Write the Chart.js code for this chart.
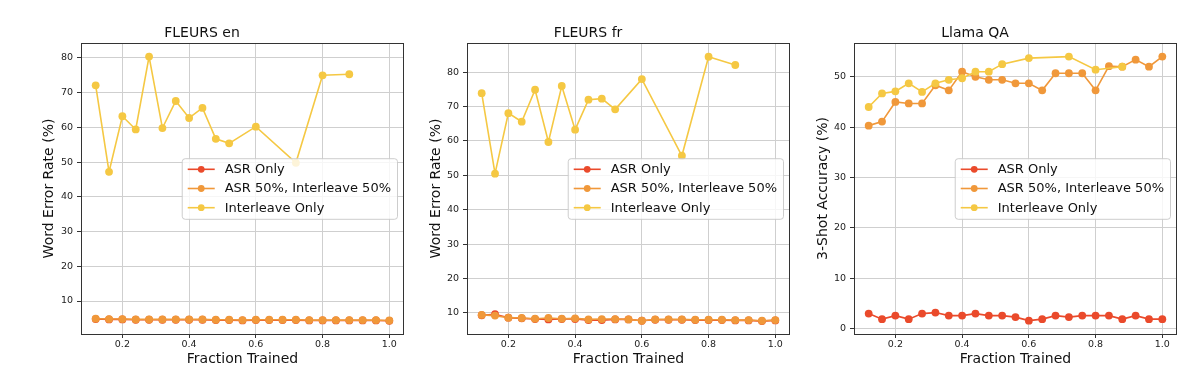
<!DOCTYPE html>
<html>
<head>
<meta charset="utf-8">
<script src="https://cdn.jsdelivr.net/npm/chart.js@4.4.1/dist/chart.umd.min.js"></script>
<style>
  html, body { margin: 0; padding: 0; background: #fff; }
  #wrap { position: relative; width: 1200px; height: 378px; overflow: hidden; }
  #wrap canvas { position: absolute; top: 0; }
</style>
</head>
<body>
<div id="wrap">
  <canvas id="fleursEn" width="414" height="378" style="left:0px"></canvas>
  <canvas id="fleursFr" width="414" height="378" style="left:386px"></canvas>
  <canvas id="llamaQa" width="414" height="378" style="left:773px"></canvas>
</div>
<script>
/* x positions (fraction of training done) */
const fractions = [0.12, 0.16, 0.20, 0.24, 0.28, 0.32, 0.36, 0.40, 0.44, 0.48, 0.52, 0.56,
                   0.60, 0.64, 0.68, 0.72, 0.76, 0.80, 0.84, 0.88, 0.92, 0.96, 1.00];

const seriesNames = ['ASR Only', 'ASR 50%, Interleave 50%', 'Interleave Only'];
const seriesColors = ['#EA4A2B', '#F0983A', '#F5C843'];

// FLEURS en - word error rate (%)
const enAsrOnly    = [4.8, 4.7, 4.7, 4.6, 4.6, 4.6, 4.6, 4.6, 4.6, 4.5, 4.5, 4.4, 4.5, 4.5, 4.5, 4.5, 4.4, 4.4, 4.4, 4.4, 4.4, 4.4, 4.3];
const enMixed      = [4.9, 4.8, 4.8, 4.7, 4.7, 4.7, 4.7, 4.7, 4.7, 4.6, 4.6, 4.5, 4.6, 4.6, 4.6, 4.6, 4.5, 4.5, 4.5, 4.5, 4.5, 4.5, 4.4];
const enInterleave = [72.1, 47.2, 63.2, 59.4, 80.4, 59.8, 67.6, 62.7, 65.6, 56.7, 55.4, null, 60.2, null, null, 49.8, null, 75.0, null, 75.3, null, null, null];

// FLEURS fr - word error rate (%)
const frAsrOnly    = [9.3, 9.6, 8.6, 8.4, 8.2, 8.1, 8.2, 8.2, 7.9, 7.9, 8.1, 8.1, 7.7, 8.0, 8.0, 8.0, 7.9, 7.9, 7.9, 7.8, 7.8, 7.6, 7.8];
const frMixed      = [9.4, 9.2, 8.6, 8.5, 8.3, 8.5, 8.3, 8.4, 8.1, 8.2, 8.2, 8.1, 7.7, 8.1, 8.1, 8.1, 8.0, 8.0, 8.0, 7.9, 7.9, 7.7, 7.9];
const frInterleave = [73.9, 50.5, 68.1, 65.6, 74.9, 59.7, 76.0, 63.3, 72.0, 72.3, 69.2, null, 78.0, null, null, 55.7, null, 84.5, null, 82.1, null, null, null];

// Llama QA - 3-shot accuracy (%)
const qaAsrOnly    = [3.0, 1.9, 2.6, 1.9, 3.0, 3.2, 2.6, 2.6, 3.0, 2.6, 2.6, 2.3, 1.6, 1.9, 2.6, 2.3, 2.6, 2.6, 2.6, 1.9, 2.6, 1.9, 1.9];
const qaMixed      = [40.3, 41.1, 45.0, 44.7, 44.7, 48.3, 47.3, 51.0, 50.0, 49.4, 49.4, 48.7, 48.7, 47.3, 50.7, 50.7, 50.7, 47.3, 52.1, 52.0, 53.4, 52.0, 54.0];
const qaInterleave = [44.0, 46.7, 47.1, 48.7, 47.0, 48.7, 49.4, 49.7, 51.0, 51.0, 52.5, null, 53.7, null, null, 54.0, null, 51.4, null, 52.0, null, null, null];

const FONT = '"DejaVu Sans", "Liberation Sans", sans-serif';

// pair x values with y, skipping the runs that were not evaluated
function toPoints(values) {
    return fractions.map((x, i) => ({x: x, y: values[i]})).filter(p => p.y !== null);
}

// dark frame round the plot, like matplotlib spines
const frame = {
    id: 'frame',
    afterDatasetsDraw(chart) {
        const {ctx, chartArea: a} = chart;
        ctx.save();
        ctx.strokeStyle = '#333';
        ctx.lineWidth = 1;
        ctx.strokeRect(Math.round(a.left) + 0.5, Math.round(a.top) + 0.5,
                       Math.round(a.right - a.left) - 1, Math.round(a.bottom - a.top));
        ctx.restore();
    }
};

// legend box drawn inside the plot, centre right
const insideLegend = {
    id: 'insideLegend',
    afterDraw(chart) {
        const {ctx, chartArea: a} = chart;
        const sets = chart.data.datasets;
        ctx.save();
        ctx.font = '13px ' + FONT;
        const textW = Math.max(...sets.map(s => ctx.measureText(s.label).width));
        const rowH = 19.2, pad = 6, handle = 27, gap = 10;
        const w = pad + handle + gap + textW + 6;
        const h = rowH * sets.length + 3;
        const x = a.right - 7 - w;
        const y = (a.top + a.bottom) / 2 - h / 2;

        ctx.beginPath();
        ctx.roundRect(x + 0.5, y + 0.5, w, h, 3);
        ctx.fillStyle = 'rgba(255,255,255,0.8)';
        ctx.fill();
        ctx.strokeStyle = 'rgba(200,200,200,0.9)';
        ctx.lineWidth = 1;
        ctx.stroke();

        sets.forEach((s, i) => {
            const cy = y + h / 2 + (i - (sets.length - 1) / 2) * rowH;
            ctx.strokeStyle = s.borderColor;
            ctx.lineWidth = 1.6;
            ctx.beginPath();
            ctx.moveTo(x + pad, cy);
            ctx.lineTo(x + pad + handle, cy);
            ctx.stroke();
            ctx.fillStyle = s.borderColor;
            ctx.beginPath();
            ctx.arc(x + pad + handle / 2, cy, 3.4, 0, Math.PI * 2);
            ctx.fill();
            ctx.fillStyle = '#111';
            ctx.textBaseline = 'middle';
            ctx.fillText(s.label, x + pad + handle + gap, cy + 0.5);
        });
        ctx.restore();
    }
};

function makePanel(id, title, yTitle, series, yMin, yMax, yTitleGap) {
    new Chart(document.getElementById(id), {
        type: 'line',
        data: {
            datasets: series.map((values, i) => ({
                label: seriesNames[i],
                data: toPoints(values),
                borderColor: seriesColors[i],
                backgroundColor: seriesColors[i],
                pointBackgroundColor: seriesColors[i],
                pointBorderWidth: 0,
                pointRadius: 3.9,
                borderWidth: 1.6,
                tension: 0,
                order: 3 - i
            }))
        },
        options: {
            responsive: false,
            animation: false,
            layout: { padding: { right: 10 } },
            plugins: {
                legend: { display: false },
                tooltip: { enabled: false },
                title: {
                    display: true,
                    text: title,
                    color: '#111',
                    font: { family: FONT, size: 14, weight: 'normal' },
                    padding: { top: 25.2, bottom: 1.0 }
                }
            },
            scales: {
                x: {
                    type: 'linear',
                    min: 0.076,
                    max: 1.044,
                    afterFit: (scale) => { scale.height = 44; },
                    ticks: {
                        stepSize: 0.2,
                        includeBounds: false,
                        padding: 1,
                        color: '#222',
                        font: { family: FONT, size: 9.5 },
                        callback: (v) => v.toFixed(1)
                    },
                    grid: { color: '#cfcfcf', tickColor: '#333', tickLength: 4 },
                    border: { display: false },
                    title: {
                        display: true,
                        text: 'Fraction Trained',
                        color: '#111',
                        font: { family: FONT, size: 14 },
                        padding: { top: 0, bottom: 10.6 }
                    }
                },
                y: {
                    min: yMin,
                    max: yMax,
                    afterFit: (scale) => { scale.width = 81; },
                    ticks: {
                        stepSize: 10,
                        includeBounds: false,
                        padding: 4,
                        color: '#222',
                        font: { family: FONT, size: 9.5 }
                    },
                    grid: { color: '#cfcfcf', tickColor: '#333', tickLength: 4 },
                    border: { display: false },
                    title: {
                        display: true,
                        text: yTitle,
                        color: '#111',
                        font: { family: FONT, size: 14 },
                        padding: { top: yTitleGap, bottom: 0 }
                    }
                }
            }
        },
        plugins: [frame, insideLegend]
    });
}

makePanel('fleursEn', 'FLEURS en', 'Word Error Rate (%)',
          [enAsrOnly, enMixed, enInterleave], 0.5, 84.3, 41);
makePanel('fleursFr', 'FLEURS fr', 'Word Error Rate (%)',
          [frAsrOnly, frMixed, frInterleave], 3.85, 88.5, 42);
makePanel('llamaQa', 'Llama QA', '3-Shot Accuracy (%)',
          [qaAsrOnly, qaMixed, qaInterleave], -1.05, 56.7, 41.5);
</script>
</body>
</html>
